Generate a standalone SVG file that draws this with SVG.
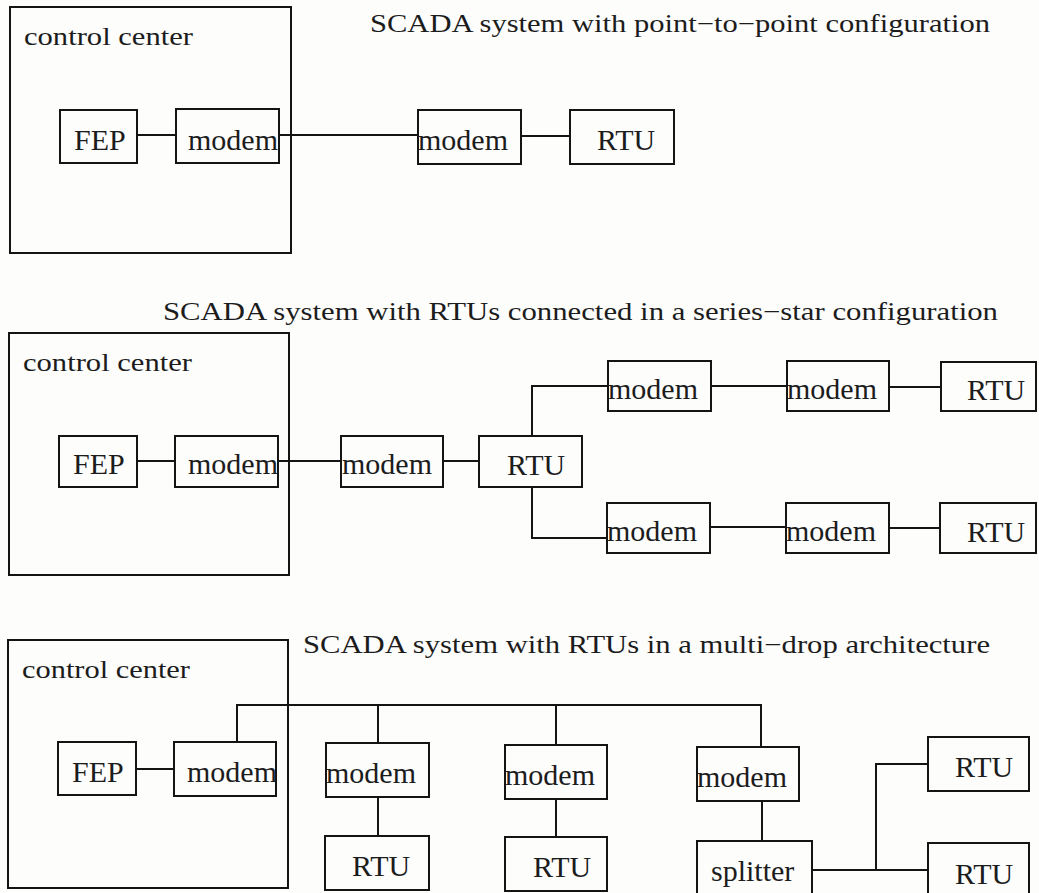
<svg xmlns="http://www.w3.org/2000/svg" width="1039" height="893" viewBox="0 0 1039 893">
<style>
.bg{fill:#fdfdfc}
.box{fill:none;stroke:#141414;stroke-width:2}
.con{fill:none;stroke:#141414;stroke-width:2}
.lbl{font-family:"Liberation Serif","Times New Roman",serif;font-size:30px;fill:#1c1c1c}
.cc{font-family:"Liberation Serif","Times New Roman",serif;font-size:26px;fill:#1c1c1c}
.title{font-family:"Liberation Serif","Times New Roman",serif;font-size:25px;fill:#1c1c1c}
</style>
<rect class="bg" x="0" y="0" width="1039" height="893"/>

<!-- titles -->
<text class="title" x="370" y="32" textLength="620" lengthAdjust="spacingAndGlyphs">SCADA system with point−to−point configuration</text>
<text class="title" x="163" y="320" textLength="835" lengthAdjust="spacingAndGlyphs">SCADA system with RTUs connected in a series−star configuration</text>
<text class="title" x="303" y="653" textLength="687" lengthAdjust="spacingAndGlyphs">SCADA system with RTUs in a multi−drop architecture</text>

<!-- connectors -->
<g id="connectors" class="con">
  <path d="M137 135 H176"/>
  <path d="M279 135 H418"/>
  <path d="M521 136 H570"/>

  <path d="M137 461 H175"/>
  <path d="M278 461 H341"/>
  <path d="M443 461 H479"/>
  <path d="M532 436 V386 H608"/>
  <path d="M711 386 H787"/>
  <path d="M889 387 H941"/>
  <path d="M532 487 V538 H607"/>
  <path d="M710 527 H786"/>
  <path d="M889 528 H940"/>

  <path d="M136 769 H174"/>
  <path d="M237 742 V705 H761 V747"/>
  <path d="M378 705 V743"/>
  <path d="M556 705 V745"/>
  <path d="M378 797 V836"/>
  <path d="M556 799 V837"/>
  <path d="M762 801 V841"/>
  <path d="M812 870 H928"/>
  <path d="M876 870 V764 H928"/>
</g>

<!-- section 1 -->
<g id="cc1"><rect class="box" x="10" y="7" width="281" height="246"/><text class="cc" x="24" y="45" textLength="169" lengthAdjust="spacingAndGlyphs">control center</text></g>
<g id="fep1"><rect class="box" x="60" y="110" width="77" height="53"/><text class="lbl" x="74" y="150">FEP</text></g>
<g id="modem1a"><rect class="box" x="176" y="109" width="103" height="54"/><text class="lbl" x="188" y="150">modem</text></g>
<g id="modem1b"><rect class="box" x="418" y="110" width="103" height="54"/><text class="lbl" x="418" y="150">modem</text></g>
<g id="rtu1"><rect class="box" x="570" y="110" width="104" height="54"/><text class="lbl" x="597" y="150">RTU</text></g>

<!-- section 2 -->
<g id="cc2"><rect class="box" x="9" y="333" width="280" height="242"/><text class="cc" x="23" y="371" textLength="169" lengthAdjust="spacingAndGlyphs">control center</text></g>
<g id="fep2"><rect class="box" x="59" y="436" width="78" height="51"/><text class="lbl" x="73" y="474">FEP</text></g>
<g id="modem2a"><rect class="box" x="175" y="436" width="103" height="51"/><text class="lbl" x="188" y="474">modem</text></g>
<g id="modem2b"><rect class="box" x="341" y="436" width="102" height="51"/><text class="lbl" x="342" y="474">modem</text></g>
<g id="rtu2"><rect class="box" x="479" y="436" width="103" height="51"/><text class="lbl" x="507" y="475">RTU</text></g>
<g id="modem2c"><rect class="box" x="608" y="361" width="103" height="50"/><text class="lbl" x="608" y="399">modem</text></g>
<g id="modem2d"><rect class="box" x="787" y="361" width="102" height="50"/><text class="lbl" x="787" y="399">modem</text></g>
<g id="rtu2t"><rect class="box" x="941" y="362" width="95" height="49"/><text class="lbl" x="967" y="400">RTU</text></g>
<g id="modem2e"><rect class="box" x="607" y="503" width="103" height="50"/><text class="lbl" x="607" y="541">modem</text></g>
<g id="modem2f"><rect class="box" x="786" y="503" width="103" height="50"/><text class="lbl" x="786" y="541">modem</text></g>
<g id="rtu2b"><rect class="box" x="940" y="503" width="96" height="50"/><text class="lbl" x="967" y="542">RTU</text></g>

<!-- section 3 -->
<g id="cc3"><rect class="box" x="8" y="640" width="280" height="248"/><text class="cc" x="22" y="678" textLength="168" lengthAdjust="spacingAndGlyphs">control center</text></g>
<g id="fep3"><rect class="box" x="58" y="742" width="78" height="53"/><text class="lbl" x="72" y="782">FEP</text></g>
<g id="modem3a"><rect class="box" x="174" y="742" width="102" height="54"/><text class="lbl" x="187" y="782">modem</text></g>
<g id="modem3b"><rect class="box" x="326" y="743" width="103" height="54"/><text class="lbl" x="326" y="783">modem</text></g>
<g id="modem3c"><rect class="box" x="505" y="745" width="102" height="54"/><text class="lbl" x="505" y="785">modem</text></g>
<g id="modem3d"><rect class="box" x="697" y="747" width="102" height="54"/><text class="lbl" x="697" y="787">modem</text></g>
<g id="rtu3a"><rect class="box" x="325" y="836" width="104" height="54"/><text class="lbl" x="352" y="876">RTU</text></g>
<g id="rtu3b"><rect class="box" x="505" y="837" width="102" height="54"/><text class="lbl" x="533" y="877">RTU</text></g>
<g id="splitter"><rect class="box" x="697" y="841" width="115" height="56"/><text class="lbl" x="711" y="881">splitter</text></g>
<g id="rtu3c"><rect class="box" x="928" y="737" width="101" height="54"/><text class="lbl" x="955" y="777">RTU</text></g>
<g id="rtu3d"><rect class="box" x="928" y="843" width="101" height="54"/><text class="lbl" x="955" y="884">RTU</text></g>
</svg>
